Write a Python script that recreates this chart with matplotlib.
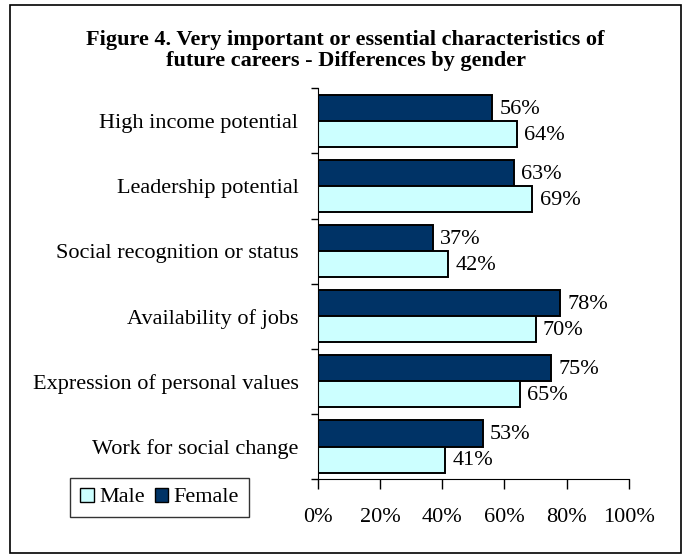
import matplotlib.pyplot as plt
from matplotlib.patches import Rectangle, Patch
import numpy as np

plt.rcParams['font.family'] = ['Liberation Serif', 'DejaVu Serif']

categories = ["High income potential", "Leadership potential",
              "Social recognition or status", "Availability of jobs",
              "Expression of personal values", "Work for social change"]
female = [56, 63, 37, 78, 75, 53]
male = [64, 69, 42, 70, 65, 41]
xticks = [0, 20, 40, 60, 80, 100]

c_female = '#003366'
c_male = '#CCFFFF'

fig = plt.figure(figsize=(6.91, 5.59), dpi=100)
ax = fig.add_axes([0.460, 0.143, 0.450, 0.699])

y = np.arange(len(categories))
h = 0.40
ax.barh(y - h / 2, female, height=h, color=c_female, edgecolor='black', linewidth=1.4)
ax.barh(y + h / 2, male, height=h, color=c_male, edgecolor='black', linewidth=1.4)

for i in range(len(categories)):
    ax.text(female[i] + 2.4, y[i] - h / 2 + 0.02, f"{female[i]}%", va='center', ha='left', fontsize=16)
    ax.text(male[i] + 2.4, y[i] + h / 2 + 0.02, f"{male[i]}%", va='center', ha='left', fontsize=16)

ax.set_ylim(len(categories) - 0.5, -0.5)
ax.set_xlim(0, 100)
ax.set_yticks(y)
ax.set_yticklabels(categories, fontsize=16)
ax.set_yticks(np.arange(-0.5, len(categories)), minor=True)
ax.tick_params(axis='y', which='major', length=0, pad=14)
ax.tick_params(axis='y', which='minor', length=5, width=1)
ax.set_xticks(xticks)
ax.set_xticklabels([f"{v}%" for v in xticks], fontsize=16)
ax.tick_params(axis='x', length=7, width=1, pad=14)
ax.spines['top'].set_visible(False)
ax.spines['right'].set_visible(False)

fig.text(0.50, 0.910, "Figure 4. Very important or essential characteristics of\nfuture careers - Differences by gender",
         ha='center', va='center', fontsize=16, fontweight='bold', linespacing=1.05)

handles = [Patch(facecolor=c_male, edgecolor='black'), Patch(facecolor=c_female, edgecolor='black')]
leg = fig.legend(handles, ["Male", "Female"], loc='center', bbox_to_anchor=(0.231, 0.110),
                 ncol=2, fontsize=16, frameon=True, fancybox=False, edgecolor='black',
                 handlelength=0.6, handleheight=0.6, handletextpad=0.25, columnspacing=0.45,
                 borderpad=0.45, borderaxespad=0)
leg.get_frame().set_linewidth(1)

fig.patches.append(Rectangle((0.0145, 0.0107), 0.971, 0.980, transform=fig.transFigure,
                             fill=False, edgecolor='black', linewidth=1.2))

fig.savefig('out.png', dpi=100)
